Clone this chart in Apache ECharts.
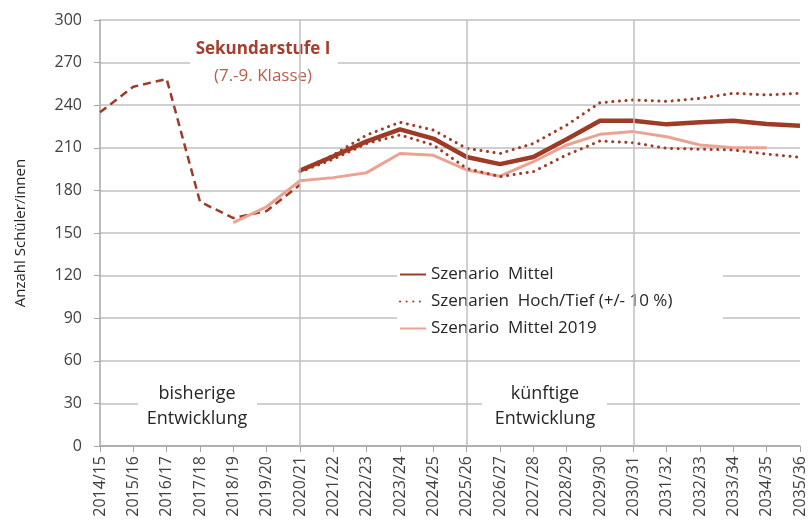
<!DOCTYPE html>
<html lang="de">
  <head>
    <meta charset="UTF-8" />
    <title>Sekundarstufe I</title>
    <script src="https://cdn.jsdelivr.net/npm/echarts@6/dist/echarts.min.js"></script>
  </head>
  <body style="margin: 0">
    <div id="main" style="width: 809px; height: 532px"></div>

    <script type="text/javascript">
      // school years on the x axis
      const years = [
        "2014/15", "2015/16", "2016/17", "2017/18", "2018/19", "2019/20", "2020/21",
        "2021/22", "2022/23", "2023/24", "2024/25", "2025/26", "2026/27", "2027/28",
        "2028/29", "2029/30", "2030/31", "2031/32", "2032/33", "2033/34", "2034/35", "2035/36"
      ];
      const yTicks = [0, 30, 60, 90, 120, 150, 180, 210, 240, 270, 300];

      // past development (dashed)
      const bisher = [235, 253, 258.5, 172, 160.5, 165.5, 184];
      // forecasts starting 2020/21
      const mittel = [194, 204, 214.5, 223, 216.5, 203.5, 198.5, 203.5, 216, 229, 229, 226.5, 228, 229, 226.8, 225.6];
      const hoch = [194, 205, 219, 228, 222.5, 209.6, 206, 213, 226, 241.8, 243.7, 242.7, 244.8, 248.4, 247.2, 248.4];
      const tief = [193, 202, 213, 219, 212, 195.5, 189.7, 193.2, 205, 214.8, 213.6, 209.6, 209, 208.5, 205.6, 203.3];
      // previous forecast from 2019 (starts 2018/19)
      const mittel2019 = [157.3, 168.5, 186.8, 189, 192.5, 206, 204.7, 194.4, 190, 200.2, 212, 219.5, 221.4, 217.8, 212, 210, 210];

      const dark = "#9E3B26";
      const light = "#EAA393";
      const grey = "#BFBFBF";

      // put a series onto the full year list starting at a given year
      function fromYear(start, values) {
        const out = years.map(() => null);
        const i0 = years.indexOf(start);
        values.forEach((v, i) => (out[i0 + i] = v));
        return out;
      }

      let myChart = echarts.init(document.getElementById("main"));

      const nameHT = "Szenarien  Hoch/Tief (+/- 10 %)";

      let options = {
        animation: false,
        textStyle: { fontFamily: "Open Sans" },
        grid: { left: 100, right: 9, top: 20, bottom: 86 },
        legend: {
          data: ["Szenario  Mittel", nameHT, "Szenario  Mittel 2019"],
          orient: "vertical",
          left: 399,
          top: 266,
          itemWidth: 26,
          itemHeight: 12,
          itemGap: 10,
          padding: 0,
          itemStyle: { opacity: 0 },
          textStyle: { fontSize: 17, color: "#262626", fontFamily: "Open Sans" }
        },
        xAxis: {
          type: "category",
          data: years,
          boundaryGap: false,
          axisLine: { lineStyle: { color: "#A6A6A6", width: 1.5 } },
          axisTick: { show: true, length: 6, lineStyle: { color: "#A6A6A6" } },
          axisLabel: { rotate: 90, fontSize: 16, color: "#404040", margin: 10, interval: 0 },
          splitLine: { show: false }
        },
        yAxis: {
          type: "value",
          min: 0,
          max: 300,
          interval: 30,
          name: "Anzahl Schüler/innen",
          nameLocation: "middle",
          nameGap: 72,
          nameTextStyle: { fontSize: 15, color: "#262626" },
          axisLine: { show: true, lineStyle: { color: "#A6A6A6", width: 1.5 } },
          axisTick: { show: true, length: 6, lineStyle: { color: "#A6A6A6" } },
          axisLabel: { fontSize: 16, color: "#404040", margin: 18 },
          splitLine: { lineStyle: { color: grey, width: 1.5 } }
        },
        graphic: [
          // white boxes behind the annotations
          { type: "rect", z: 3, shape: { x: 190, y: 30, width: 148, height: 60 }, style: { fill: "#fff" } },
          { type: "rect", z: 3, shape: { x: 138, y: 380, width: 119, height: 52 }, style: { fill: "#fff" } },
          { type: "rect", z: 3, shape: { x: 482, y: 380, width: 125, height: 52 }, style: { fill: "#fff" } },
          { type: "rect", z: 3, shape: { x: 397, y: 255, width: 326, height: 83 }, style: { fill: "#fff" } },
          {
            type: "text", z: 5, x: 263, y: 49,
            style: { text: "Sekundarstufe I", fill: "#A33F2B", font: "bold 17px 'Open Sans'", align: "center", verticalAlign: "middle" }
          },
          {
            type: "text", z: 5, x: 263, y: 76,
            style: { text: "(7.-9. Klasse)", fill: "#B8604C", font: "17px 'Open Sans'", align: "center", verticalAlign: "middle" }
          },
          {
            type: "text", z: 5, x: 197, y: 394,
            style: { text: "bisherige", fill: "#262626", font: "18px 'Open Sans'", align: "center", verticalAlign: "middle" }
          },
          {
            type: "text", z: 5, x: 197, y: 419,
            style: { text: "Entwicklung", fill: "#262626", font: "18px 'Open Sans'", align: "center", verticalAlign: "middle" }
          },
          {
            type: "text", z: 5, x: 545, y: 394,
            style: { text: "künftige", fill: "#262626", font: "18px 'Open Sans'", align: "center", verticalAlign: "middle" }
          },
          {
            type: "text", z: 5, x: 545, y: 419,
            style: { text: "Entwicklung", fill: "#262626", font: "18px 'Open Sans'", align: "center", verticalAlign: "middle" }
          }
        ],
        series: [
          {
            // vertical separators
            name: "sep",
            type: "line",
            data: [],
            z: 1,
            markLine: {
              silent: true,
              symbol: "none",
              label: { show: false },
              lineStyle: { color: grey, type: "solid", width: 1.5 },
              data: [{ xAxis: "2020/21" }, { xAxis: "2025/26" }, { xAxis: "2030/31" }]
            }
          },
          {
            name: "bisher",
            type: "line",
            data: fromYear("2014/15", bisher),
            symbol: "none",
            lineStyle: { color: dark, width: 2.5, type: [8, 5] },
            z: 2
          },
          {
            name: "Szenario  Mittel 2019",
            type: "line",
            data: fromYear("2018/19", mittel2019),
            symbol: "none",
            itemStyle: { color: light },
            lineStyle: { color: light, width: 3 },
            z: 2
          },
          {
            name: nameHT,
            type: "line",
            data: fromYear("2020/21", hoch),
            symbol: "none",
            itemStyle: { color: dark },
            lineStyle: { color: dark, width: 3, type: [0.1, 6.5], cap: "round" },
            z: 3
          },
          {
            name: nameHT,
            type: "line",
            data: fromYear("2020/21", tief),
            symbol: "none",
            itemStyle: { color: dark },
            lineStyle: { color: dark, width: 3, type: [0.1, 6.5], cap: "round" },
            z: 3
          },
          {
            name: "Szenario  Mittel",
            type: "line",
            data: fromYear("2020/21", mittel),
            symbol: "none",
            itemStyle: { color: dark },
            lineStyle: { color: dark, width: 4.5 },
            z: 4
          }
        ]
      };

      myChart.setOption(options);
    </script>
  </body>
</html>
